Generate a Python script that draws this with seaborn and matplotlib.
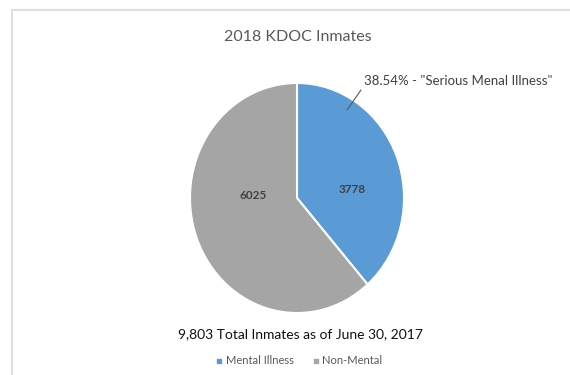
import matplotlib
matplotlib.use("Agg")
import matplotlib.pyplot as plt
import seaborn as sns
from matplotlib.patches import Rectangle
from matplotlib.lines import Line2D

categories = ["Mental Illness", "Non-Mental"]
values = [3778, 6025]
colors = ["#5B9BD5", "#A5A5A5"]
title = "2018 KDOC Inmates"
callout = '38.54% - "Serious Menal Illness"'
footer = "9,803 Total Inmates as of June 30, 2017"

sns.set_theme(style="white")
plt.rcParams["font.family"] = ["Lato", "DejaVu Sans"]

W, H = 570, 375
fig = plt.figure(figsize=(W / 100, H / 100), dpi=100)
fig.patch.set_facecolor("white")

# chart border (cropped on right / bottom)
fig.patches.append(Rectangle((12 / W, -0.02), 1.2, 1 - 10 / H + 0.02,
                             transform=fig.transFigure, fill=False,
                             edgecolor="#D9D9D9", linewidth=1.2))

left, right, top, bottom = 190, 404, 83, 313
ax = fig.add_axes([left / W, 1 - bottom / H, (right - left) / W, (bottom - top) / H])
wedges, _ = ax.pie(values, colors=colors, startangle=90, counterclock=False,
                   wedgeprops=dict(edgecolor="white", linewidth=1.5))
ax.set_aspect("auto")
ax.set_xlim(-1, 1)
ax.set_ylim(-1, 1)
ax.axis("off")

# data labels
ax.text(0.52, 0.07, str(values[0]), ha="center", va="center", fontsize=8.5,
        color="#404040", fontweight="bold")
ax.text(-0.41, 0.02, str(values[1]), ha="center", va="center", fontsize=8.5,
        color="#404040", fontweight="bold")

fig.text(298 / W, 1 - 37 / H, title, ha="center", va="center", fontsize=11.5, color="#595959")
fig.text(364 / W, 1 - 81 / H, callout, ha="left", va="center", fontsize=9.5, color="#404040")
fig.lines.append(Line2D([361 / W, 347 / W], [1 - 90 / H, 1 - 110 / H],
                        transform=fig.transFigure, color="#595959", linewidth=0.8))
fig.text(300 / W, 1 - 334 / H, footer, ha="center", va="center", fontsize=10, color="#111111")

# legend
handles = [Line2D([], [], marker="s", linestyle="", markersize=3.5, color=c) for c in colors]
fig.legend(handles, categories, loc="center", bbox_to_anchor=(298 / W, 1 - 361 / H),
           ncol=2, frameon=False, fontsize=8, labelcolor="#595959",
           handletextpad=0.1, columnspacing=1.5, handlelength=1)

fig.savefig("out.png", dpi=100)
